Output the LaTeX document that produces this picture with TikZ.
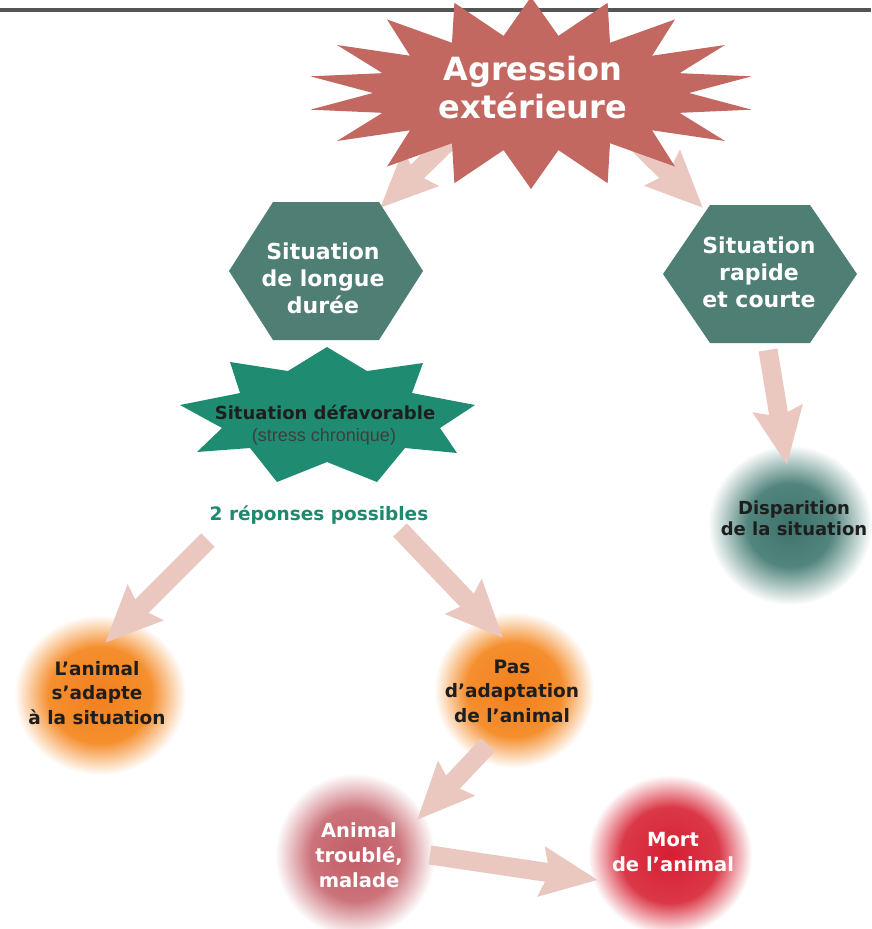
\documentclass[tikz,border=0pt]{standalone}
\usepackage{fontspec}
\setmainfont{DejaVu Sans}
\newfontfamily\libfont{Liberation Sans}
\usetikzlibrary{arrows.meta,calc}
\pgfdeclarelayer{bg}
\pgfdeclarelayer{mid}
\pgfsetlayers{bg,mid,main}
\definecolor{starred}{RGB}{194,104,97}
\definecolor{hexteal}{RGB}{78,126,116}
\definecolor{stargreen}{RGB}{31,140,114}
\definecolor{repgreen}{RGB}{29,138,112}
\definecolor{arrowpink}{RGB}{234,200,192}
\definecolor{darktext}{RGB}{30,30,30}
\definecolor{graytext}{RGB}{62,62,62}
\definecolor{toplinecol}{RGB}{85,85,85}
\pgfdeclareradialshading{blobOrange}{\pgfpoint{0bp}{0bp}}{rgb(0bp)=(0.95,0.50,0.12); rgb(15bp)=(0.96,0.56,0.18); rgb(25bp)=(1,1,1); rgb(50bp)=(1,1,1)}
\pgfdeclareradialshading{blobTeal}{\pgfpoint{0bp}{0bp}}{rgb(0bp)=(0.24,0.45,0.42); rgb(13bp)=(0.32,0.52,0.49); rgb(25bp)=(1,1,1); rgb(50bp)=(1,1,1)}
\pgfdeclareradialshading{blobPink}{\pgfpoint{0bp}{0bp}}{rgb(0bp)=(0.76,0.36,0.40); rgb(14bp)=(0.80,0.45,0.48); rgb(25bp)=(1,1,1); rgb(50bp)=(1,1,1)}
\pgfdeclareradialshading{blobRed}{\pgfpoint{0bp}{0bp}}{rgb(0bp)=(0.84,0.12,0.20); rgb(15bp)=(0.86,0.22,0.28); rgb(25bp)=(1,1,1); rgb(50bp)=(1,1,1)}
\begin{document}
\begin{tikzpicture}[x=1pt,y=-1pt,
  bigarrow/.style={line width=19pt, draw=arrowpink, line cap=butt,
    -{Stealth[length=56pt,width=48pt,inset=7pt]}},
  wtxt/.style={align=center, inner sep=0pt, text=white},
  dtxt/.style={align=center, inner sep=0pt, text=darktext},
  hextxt/.style={wtxt, font=\bfseries\fontsize{22}{27}\selectfont},
  blobtxt/.style={dtxt, font=\bfseries\fontsize{18.5}{24.5}\selectfont},
  redtxt/.style={wtxt, font=\bfseries\fontsize{19.5}{25}\selectfont}]
\useasboundingbox (0,0) rectangle (871,929);

% ---- text nodes ----
\node[wtxt, font=\bfseries\fontsize{32}{38}\selectfont] (agr) at (533,88) {Agression\\extérieure};
\node[hextxt] (hl) at (323,278) {Situation\\de longue\\durée};
\node[hextxt] (hr) at (759,272) {Situation\\rapide\\et courte};
\node[dtxt, font=\bfseries\fontsize{18}{20}\selectfont] (def) at (325,412) {Situation défavorable};
\node[inner sep=0pt, text=graytext, font=\libfont\fontsize{18}{20}\selectfont] (stress) at (324,437) {(stress chronique)};
\node[inner sep=0pt, text=repgreen, font=\bfseries\fontsize{18.5}{20}\selectfont] (rep) at (319,515) {2 réponses possibles};
\node[blobtxt] (adapte) at (97,693) {L’animal\\s’adapte\\à la situation};
\node[blobtxt] (pas) at (512,691) {Pas\\d’adaptation\\de l’animal};
\node[dtxt, font=\bfseries\fontsize{18}{21}\selectfont] (disp) at (794,518) {Disparition\\de la situation};
\node[redtxt] (troub) at (359,855) {Animal\\troublé,\\malade};
\node[redtxt] (mort) at (673,852) {Mort\\de l’animal};

% ---- shape centres ----
\coordinate (agrc) at (531,93);
\coordinate (hlc) at (326,271);
\coordinate (hrc) at (760,274);
\coordinate (gsc) at (327,415);
\coordinate (adapteb) at (100,695);
\coordinate (pasb) at (514,690);
\coordinate (dispb) at (790,525);
\coordinate (troubb) at (355,855);
\coordinate (mortb) at (670,855);

% ---- arrow end points ----
\coordinate (a1s) at (462,128); \coordinate (a1e) at (380,208);
\coordinate (a2s) at (622,128); \coordinate (a2e) at (703,208);
\coordinate (a3s) at (768,350); \coordinate (a3e) at (787,465);
\coordinate (a4s) at (208,540); \coordinate (a4e) at (105,643);
\coordinate (a5s) at (400,530); \coordinate (a5e) at (503,638);
\coordinate (a6s) at (488,745); \coordinate (a6e) at (417,820);
\coordinate (a7s) at (430,855); \coordinate (a7e) at (598,880);

\begin{pgfonlayer}{bg}
  \fill[white] (0,0) rectangle (871,929);
  \shade[shading=blobOrange] (adapteb) ellipse [x radius=86, y radius=80];
  \shade[shading=blobOrange] (pasb) ellipse [x radius=80, y radius=78];
  \shade[shading=blobTeal] (dispb) ellipse [x radius=82, y radius=80];
  \shade[shading=blobPink] (troubb) ellipse [x radius=80, y radius=82];
  \shade[shading=blobRed] (mortb) ellipse [x radius=82, y radius=80];
  \draw[bigarrow] (a1s) -- (a1e);
  \draw[bigarrow] (a2s) -- (a2e);
\end{pgfonlayer}

\begin{pgfonlayer}{mid}
  % top line
  \draw[toplinecol, line width=3.5pt] (0,10) -- (871,10);
  % starburst
  \fill[starred, shift={(agrc)}] plot[variable=\k, samples at={0,...,35}]
    ({(158+66*(1-mod(\k,2)))*cos(\k*10+10)}, {(58+38*(1-mod(\k,2)))*sin(\k*10+10)}) -- cycle;
  % hexagons
  \fill[hexteal, shift={(hlc)}] (-97,0) -- (-53,-69) -- (53,-69) -- (97,0) -- (53,69) -- (-53,69) -- cycle;
  \fill[hexteal, shift={(hrc)}] (-97,0) -- (-50,-69) -- (50,-69) -- (97,0) -- (50,69) -- (-50,69) -- cycle;
  % green star
  \fill[stargreen, shift={(gsc)}] (0,-68) -- (40,-44) -- (96,-52) -- (85,-22) -- (148,-10)
    -- (113,13) -- (130,38) -- (78,33) -- (50,67) -- (0,47) -- (-50,67) -- (-77,33)
    -- (-130,37) -- (-105,13) -- (-147,-10) -- (-87,-22) -- (-97,-53) -- (-39,-44) -- cycle;
  % arrows
  \draw[bigarrow] (a3s) -- (a3e);
  \draw[bigarrow] (a4s) -- (a4e);
  \draw[bigarrow] (a5s) -- (a5e);
  \draw[bigarrow] (a6s) -- (a6e);
  \draw[bigarrow] (a7s) -- (a7e);
\end{pgfonlayer}
\end{tikzpicture}
\end{document}
